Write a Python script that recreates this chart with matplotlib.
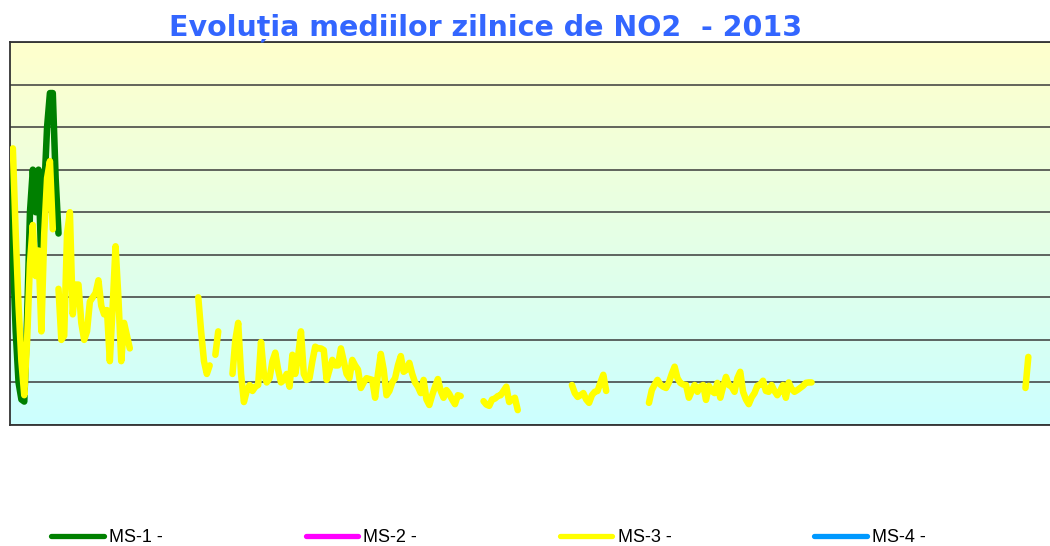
import numpy as np
import matplotlib
matplotlib.use("Agg")
import matplotlib.pyplot as plt
from matplotlib.colors import LinearSegmentedColormap

# daily means NO2 2013 (grid step = 10)
# MS-1: only the first days of January
ms1_days = list(range(0, 18))
ms1_vals = [59, 40, 22, 10, 6, 5.5, 25, 50, 60, 50, 60, 37, 55, 70, 78, 78, 58, 45]

# MS-3: several pieces, gaps between them
ms3_pieces = [
    (0, [63, 65, 45, 28, 15, 7, 20, 38, 47, 35, 41, 22, 45, 58, 62, 46, np.nan,
         32, 20, 21, 45, 50, 26, 33, 33, 24, 20, 22, 29, 30, 31, 34, 28, 26, 27,
         15, 28, 42, 30, 15, 24, 21, 18]),
    (66, [30, 22, 15, 12, 14]),
    (72, [16.5, 22]),
    (78, [12, 20, 24, 12, 5.4, 8, 9.4, 8, 9, 9.4, 19.5, 12, 10, 11, 15, 17, 13,
          10, 10.6, 12, 9, 16.5, 12, 16, 22, 12, 10.6, 11, 15, 18.4, 18, 18,
          17.6, 10.6, 13, 15.3, 14, 14, 18, 15, 12, 11, 15.3, 14, 13, 8.7, 10,
          11, 10.8, 10.6, 6.4, 12, 16.7, 13, 7, 8, 10, 11, 14, 16.2, 12.5, 13,
          14.6, 12, 10, 9, 7.5, 10.6, 6, 4.7, 7, 9, 10.8, 8, 6.4, 8.2, 7.3, 6,
          4.9, 7, 6.8]),
    (166, [5.6, 4.8, 4.5, 6, 6.2, 6.8, 7, 8, 9, 5.4, 6, 6.4, 3.5]),
    (197, [9.4, 7.5, 6.6, 7, 7.5, 6, 5.2, 7, 7.8, 8, 10, 11.8, 8]),
    (224, [5.2, 8.2, 9.5, 10.6, 9.5, 9, 8.7, 10, 12, 13.7, 11, 9.9, 9.5, 9.4,
           6.4, 8, 9.4, 7.8, 9, 9.4, 5.9, 9.2, 8, 7.5, 9.9, 6.4, 9, 11.3, 9.4,
           9, 7.8, 11, 12.5, 7.8, 6, 4.9, 6.5, 7.5, 9.2, 9.5, 10.4, 8, 7.8, 9.4,
           8, 7, 8, 9.4, 6.4, 10, 8.5, 7.8, 8.2, 8.7, 9.2, 9.9, 10, 10]),
    (356, [8.7, 16]),
]

# MS-2 and MS-4 have no values in 2013
ms2_vals = []
ms4_vals = []

labels = ["MS-1 -", "MS-2 -", "MS-3 -", "MS-4 -"]
colors = ["#008000", "#FF00FF", "#FFFF00", "#0099FF"]


def pieces_to_series(pieces):
    x, y = [], []
    for start, vals in pieces:
        x += list(range(start, start + len(vals))) + [np.nan]
        y += list(vals) + [np.nan]
    return np.array(x, dtype=float), np.array(y, dtype=float)


ms3_x, ms3_y = pieces_to_series(ms3_pieces)

fig = plt.figure(figsize=(10.5, 5.46), dpi=100)
ax = fig.add_axes([10 / 1050, 121 / 546, 1044 / 1050, 383 / 546])

# gradient background, yellow on top to cyan at bottom
cmap = LinearSegmentedColormap.from_list("bg", ["#CCFFFF", "#FFFFCC"])
ax.imshow(np.linspace(0, 1, 256).reshape(-1, 1)[::-1], cmap=cmap, aspect="auto",
          extent=[0, 1, 0, 1], transform=ax.transAxes, zorder=0)

ax.set_xlim(0, 366)
ax.set_ylim(0, 90)
ax.set_yticks(np.arange(0, 91, 10))
ax.set_xticks([])
ax.tick_params(left=False, labelleft=False)
ax.grid(axis="y", color="#3a3a3a", linewidth=1.1, zorder=1)
for s in ax.spines.values():
    s.set_color("#333333")
    s.set_linewidth(1.3)

lw = 4.7
kw = dict(solid_joinstyle="round", solid_capstyle="round", zorder=3)
l1, = ax.plot(ms1_days, ms1_vals, color=colors[0], lw=lw, label=labels[0], **kw)
l2, = ax.plot(ms2_vals, ms2_vals, color=colors[1], lw=lw, label=labels[1], **kw)
l3, = ax.plot(ms3_x, ms3_y, color=colors[2], lw=lw, label=labels[2], **kw)
l4, = ax.plot(ms4_vals, ms4_vals, color=colors[3], lw=lw, label=labels[3], **kw)

fig.text(486 / 1050, 1 - 28 / 546, "Evoluția mediilor zilnice de NO2  - 2013",
         ha="center", va="center", fontsize=20.5, fontweight="bold",
         color="#3366FF", family="DejaVu Sans")

leg = fig.legend([l1, l2, l3, l4], labels, ncol=4, loc="center left",
                 bbox_to_anchor=(44 / 1050, 0, 889 / 1050, 0.03),
                 mode="expand", frameon=False, handlelength=2.9,
                 handletextpad=0.3, borderaxespad=0,
                 prop={"family": "Liberation Sans", "size": 13})
for h in leg.get_lines():
    h.set_linewidth(3.8)

fig.savefig("out.png", dpi=100)
